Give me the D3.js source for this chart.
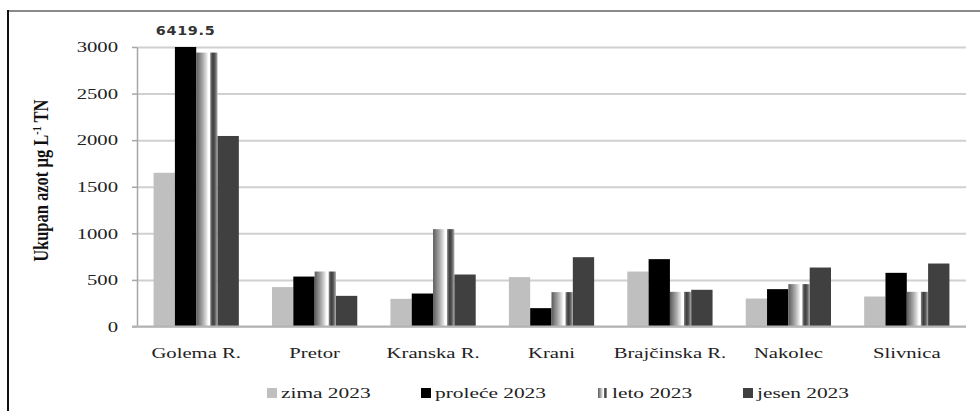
<!DOCTYPE html>
<html>
<head>
<meta charset="utf-8">
<script src="https://cdn.jsdelivr.net/npm/d3@7"></script>
<style>
  body { margin: 0; background: #fff; }
</style>
</head>
<body>
<svg id="chart" width="980" height="411"></svg>
<script>
// chart data
var categories = ["Golema R.", "Pretor", "Kranska R.", "Krani", "Brajčinska R.", "Nakolec", "Slivnica"];
var seriesNames = ["zima 2023", "proleće 2023", "leto 2023", "jesen 2023"];
var zima    = [1650, 423, 297, 530, 590, 300, 322];
var prolece = [6419.5, 536, 354, 197, 723, 401, 576];
var leto    = [2940, 590, 1045, 369, 372, 455, 372];
var jesen   = [2045, 329, 558, 744, 394, 633, 676];
var yTicks  = [0, 500, 1000, 1500, 2000, 2500, 3000];
var yMax = 3000;

var seriesValues = [zima, prolece, leto, jesen];

function drawChart() {
  var width = 980, height = 411;
  var plotLeft = 137, plotRight = 966, plotTop = 47, plotBottom = 326.5;
  var stretch = 1.38; // text in the picture is drawn wide
  var serif = "'Liberation Serif', 'Times New Roman', serif";

  var svg = d3.select("#chart");

  // gradient for the "leto" bars (striped look)
  var defs = svg.append("defs");
  var grad = defs.append("linearGradient")
      .attr("id", "letoGrad")
      .attr("x1", "0").attr("x2", "1").attr("y1", "0").attr("y2", "0");
  [[0, "#5a5a5a"], [0.12, "#7a7a7a"], [0.3, "#a8a8a8"], [0.5, "#e6e6e6"], [0.56, "#ffffff"],
   [0.64, "#ffffff"], [0.68, "#7a7a7a"], [0.78, "#3c3c3c"], [0.88, "#5a5a5a"], [1, "#b0b0b0"]]
    .forEach(function(s) {
      grad.append("stop").attr("offset", s[0]).attr("stop-color", s[1]);
    });

  var fills = ["#bfbfbf", "#000000", "url(#letoGrad)", "#404040"];

  // frame
  svg.append("line")
      .attr("x1", 8).attr("x2", width).attr("y1", 11).attr("y2", 11)
      .attr("stroke", "#8a8a8a").attr("stroke-width", 2);
  svg.append("line")
      .attr("x1", 8).attr("x2", 8).attr("y1", 10).attr("y2", height)
      .attr("stroke", "#111").attr("stroke-width", 2);

  var x0 = d3.scaleBand()
      .domain(categories)
      .range([plotLeft, plotRight])
      .paddingInner(0.28)
      .paddingOuter(0.14);

  var x1 = d3.scaleBand()
      .domain(seriesNames)
      .range([0, x0.bandwidth()]);

  var y = d3.scaleLinear()
      .domain([0, yMax])
      .range([plotBottom, plotTop])
      .clamp(true);

  // gridlines
  var grid = svg.append("g")
      .attr("transform", "translate(" + plotLeft + ",0)")
      .call(d3.axisRight(y).tickValues(yTicks).tickSize(plotRight - plotLeft).tickFormat(""));
  grid.select(".domain").remove();
  grid.selectAll("line")
      .attr("stroke", "#d0d0d0")
      .attr("stroke-width", 2);

  // y axis
  var yAxis = svg.append("g")
      .attr("transform", "translate(" + plotLeft + ",0)")
      .call(d3.axisLeft(y).tickValues(yTicks).tickSize(5).tickSizeOuter(0).tickFormat(d3.format("d")));
  yAxis.attr("font-family", serif);
  yAxis.select(".domain").attr("stroke", "#a6a6a6").attr("stroke-width", 1.5);
  yAxis.selectAll(".tick line").attr("stroke", "#a6a6a6").attr("stroke-width", 1.5);
  yAxis.selectAll(".tick text")
      .attr("x", 0)
      .attr("transform", "translate(-19,0) scale(" + stretch + ",1)")
      .style("font-family", serif)
      .style("font-size", "15px")
      .style("fill", "#222");

  // bars
  var groups = svg.append("g")
    .selectAll("g")
    .data(categories)
    .enter()
    .append("g")
      .attr("transform", function(d) { return "translate(" + x0(d) + ",0)"; });

  groups.selectAll("rect")
    .data(function(d, i) {
      return seriesNames.map(function(s, j) { return {key: s, idx: j, value: seriesValues[j][i]}; });
    })
    .enter()
    .append("rect")
      .attr("x", function(d) { return x1(d.key); })
      .attr("y", function(d) { return y(d.value); })
      .attr("width", x1.bandwidth())
      .attr("height", function(d) { return plotBottom - y(d.value); })
      .attr("fill", function(d) { return fills[d.idx]; });

  // x axis
  var xAxis = svg.append("g")
      .attr("transform", "translate(0," + plotBottom + ")")
      .call(d3.axisBottom(x0).tickSize(0).tickSizeOuter(0));
  xAxis.attr("font-family", serif);
  xAxis.select(".domain")
      .attr("d", "M" + (plotLeft - 5) + ",0H" + plotRight)
      .attr("stroke", "#b4b4b4").attr("stroke-width", 2);
  xAxis.selectAll(".tick text")
      .attr("y", 0).attr("dy", null)
      .attr("transform", "translate(0,31) scale(" + stretch + ",1)")
      .style("font-family", serif)
      .style("font-size", "15px")
      .style("fill", "#222");

  // label for the clipped bar
  categories.forEach(function(c, i) {
    seriesValues.forEach(function(vals, j) {
      if (vals[i] > yMax) {
        svg.append("text")
            .attr("transform", "translate(" + (x0(c) + x1(seriesNames[j]) + x1.bandwidth() / 2) + ",35) scale(1.15,1)")
            .attr("text-anchor", "middle")
            .style("font-family", "'DejaVu Sans', sans-serif")
            .style("font-size", "12.5px")
            .style("font-weight", "bold")
            .style("letter-spacing", "0.6px")
            .style("fill", "#333")
            .text(d3.format(".1f")(vals[i]));
      }
    });
  });

  // y axis title (glyphs look tall in the picture)
  var title = svg.append("text")
      .attr("transform", "translate(48," + ((plotTop + plotBottom) / 2 - 6) + ") rotate(-90) scale(1,1.25)")
      .attr("text-anchor", "middle")
      .style("font-family", serif)
      .style("font-size", "16.5px")
      .style("font-weight", "bold")
      .style("fill", "#111");
  title.append("tspan").text("Ukupan azot µg L");
  title.append("tspan").attr("dy", -6).style("font-size", "10px").text("-1");
  title.append("tspan").attr("dy", 6).text(" TN");

  // legend
  var legendX = [267, 421, 598, 743];
  var legend = svg.append("g")
    .selectAll("g")
    .data(seriesNames)
    .enter()
    .append("g")
      .attr("transform", function(d, i) { return "translate(" + legendX[i] + ",393)"; });

  legend.append("rect")
      .attr("x", 0).attr("y", -5)
      .attr("width", function(d, i) { return i === 2 ? 9 : 10; })
      .attr("height", 10)
      .attr("fill", function(d, i) { return fills[i]; });

  legend.append("text")
      .attr("transform", "translate(14,5) scale(" + stretch + ",1)")
      .style("font-family", serif)
      .style("font-size", "15.5px")
      .style("fill", "#222")
      .text(function(d) { return d; });
}

drawChart();
</script>
</body>
</html>
